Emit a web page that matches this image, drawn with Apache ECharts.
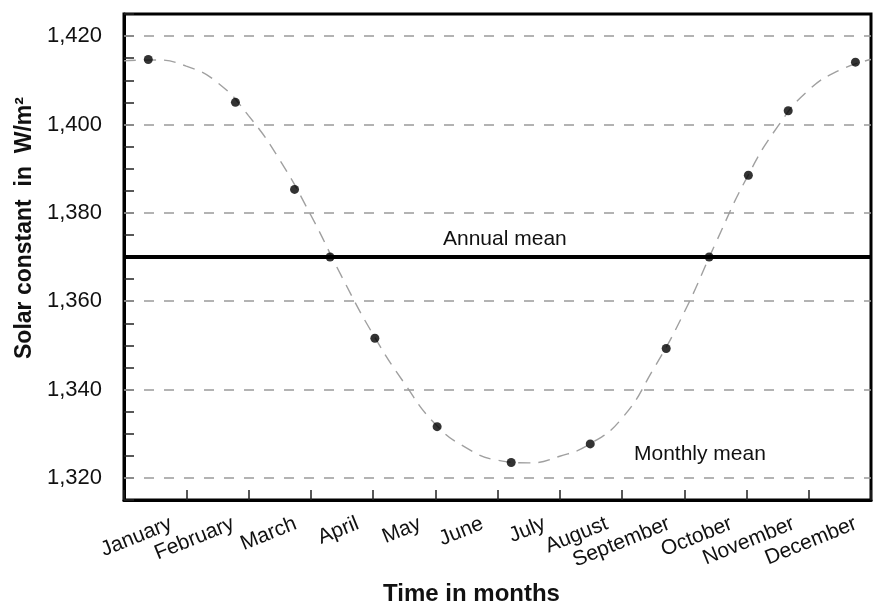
<!DOCTYPE html>
<html>
<head>
<meta charset="utf-8">
<script src="https://cdn.jsdelivr.net/npm/echarts@6/dist/echarts.min.js"></script>
<style>
html,body{margin:0;padding:0;background:#fff;}
#chart{width:883px;height:604px;}
</style>
</head>
<body>
<div id="chart"></div>
<script>
// ---- data ----
const months = ['January','February','March','April','May','June','July','August','September','October','November','December'];
// monthly mean observations (x in months from start of year, y in W/m2)
const obsX = [0.39, 1.79, 2.74, 3.31, 4.03, 5.03, 6.22, 7.49, 8.71, 9.40, 10.03, 10.67, 11.75];
const obsY = [1414.7, 1405.0, 1385.3, 1370.0, 1351.6, 1331.6, 1323.5, 1327.7, 1349.3, 1370.0, 1388.5, 1403.1, 1414.1];
// dashed curve through the monthly means (read every half month)
const curveX = [0.0, 0.5, 1.0, 1.5, 2.0, 2.5, 3.0, 3.5, 4.0, 4.5, 5.0, 5.5, 6.0, 6.5, 7.0, 7.5, 8.0, 8.5, 9.0, 9.5, 10.0, 10.5, 11.0, 11.5, 12.0];
const curveY = [1414.4, 1414.6, 1413.2, 1409.5, 1402.0, 1392.0, 1379.5, 1365.5, 1352.5, 1341.5, 1332.2, 1326.8, 1324.0, 1323.4, 1324.9, 1327.8, 1333.5, 1344.5, 1357.5, 1373.0, 1387.8, 1399.5, 1407.8, 1412.3, 1414.7];
const annualMean = 1370;
const yMin = 1315, yMax = 1425, yTickStep = 5;
const yLabelStep = 20;
const gridValues = [1320, 1340, 1360, 1380, 1400, 1420];
const xMin = 0, xMax = 12;
const annualLabel = 'Annual mean';
const monthlyLabel = 'Monthly mean';

function fmt(v){ return String(v).replace(/\B(?=(\d{3})+(?!\d))/g, ','); }

const chart = echarts.init(document.getElementById('chart'), null, {renderer:'canvas'});
const FONT = '"Liberation Sans", Arial, sans-serif';
const TXT = '#111';

const option = {
  backgroundColor: '#fff',
  animation: false,
  textStyle: { fontFamily: FONT },
  grid: [
    { left: 124, top: 14, width: 747, height: 486, containLabel: false, outerBoundsMode: 'none',
      show: true, borderColor: '#000', borderWidth: 3, backgroundColor: 'transparent' },
    { left: 140, top: 14, width: 747, height: 486, containLabel: false, outerBoundsMode: 'none', show: false }
  ],
  xAxis: [
    {
      type: 'value', gridIndex: 0, min: xMin, max: xMax, interval: 1,
      axisLine: { show: true, lineStyle: { color: '#000', width: 3 } },
      axisTick: { show: true, inside: true, length: 10, lineStyle: { color: '#222', width: 1.5 } },
      axisLabel: { show: false },
      splitLine: { show: false },
      name: 'Time in months', nameLocation: 'middle', nameGap: 82,
      nameTextStyle: { fontFamily: FONT, fontSize: 24, fontWeight: 'bold', color: TXT, padding: [0, 52, 0, 0] }
    },
    {
      type: 'category', gridIndex: 1, data: months, boundaryGap: true,
      axisLine: { show: false }, axisTick: { show: false }, splitLine: { show: false },
      axisLabel: { rotate: 22, margin: 23, fontSize: 21, color: TXT, fontFamily: FONT, interval: 0 }
    }
  ],
  yAxis: [
    {
      type: 'value', gridIndex: 0, min: yMin, max: yMax, interval: yTickStep,
      axisLine: { show: true, lineStyle: { color: '#000', width: 3 } },
      axisTick: { show: true, inside: true, length: 10, lineStyle: { color: '#222', width: 1.5 } },
      axisLabel: {
        margin: 22, fontSize: 22, color: TXT, fontFamily: FONT,
        formatter: v => (v % yLabelStep === 0 ? fmt(v) : '')
      },
      splitLine: { show: false },
      name: 'Solar constant  in  W/m²', nameLocation: 'middle', nameGap: 86, nameRotate: 90,
      nameTextStyle: { fontFamily: FONT, fontSize: 23, fontWeight: 'bold', color: TXT, padding: [0, 0, 0, 58] }
    },
    { type: 'value', gridIndex: 1, show: false }
  ],
  series: [
    {
      name: 'grid', type: 'line', xAxisIndex: 0, yAxisIndex: 0, data: [], silent: true,
      markLine: {
        silent: true, symbol: 'none', label: { show: false },
        lineStyle: { color: '#9a9a9a', type: [10, 10], width: 1.5 },
        data: gridValues.map(v => ({ yAxis: v }))
      },
      z: 1
    },
    {
      name: 'curve', type: 'line', xAxisIndex: 0, yAxisIndex: 0,
      data: curveX.map((x, i) => [x, curveY[i]]),
      smooth: 0.5, showSymbol: false, symbol: 'none',
      lineStyle: { color: '#a0a0a0', width: 1.4, type: [12, 8] },
      z: 2
    },
    {
      name: 'annual', type: 'line', xAxisIndex: 0, yAxisIndex: 0,
      data: [[xMin, annualMean], [xMax, annualMean]],
      symbol: 'none', lineStyle: { color: '#000', width: 4 },
      z: 3
    },
    {
      name: 'monthly', type: 'scatter', xAxisIndex: 0, yAxisIndex: 0,
      data: obsX.map((x, i) => [x, obsY[i]]),
      symbol: 'circle', symbolSize: 9, itemStyle: { color: '#000' },
      z: 4
    }
  ],
  graphic: [
    { type: 'text', left: 443, top: 229, style: { text: annualLabel, font: '21px ' + FONT, fill: TXT } },
    { type: 'text', left: 634, top: 444, style: { text: monthlyLabel, font: '21px ' + FONT, fill: TXT } }
  ]
};
chart.setOption(option);
</script>
</body>
</html>
